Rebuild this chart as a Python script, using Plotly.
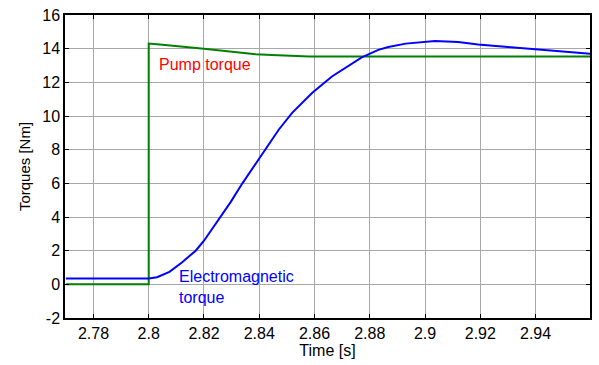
import plotly.graph_objects as go

# Pump torque (green)
pump_t = [2.77, 2.8, 2.8, 2.805, 2.82, 2.829, 2.8387, 2.8446, 2.858, 2.96]
pump_v = [0.0, 0.0, 14.3, 14.24, 14.0, 13.84, 13.67, 13.62, 13.53, 13.53]

# Electromagnetic torque (blue)
em_t = [2.77, 2.8, 2.803, 2.8075, 2.812, 2.817, 2.82, 2.8255, 2.8297, 2.8339, 2.84,
        2.8471, 2.8519, 2.8591, 2.8663, 2.8723, 2.8771, 2.8831, 2.8867, 2.893, 2.9036,
        2.912, 2.9192, 2.93, 2.9396, 2.9504, 2.96]
em_v = [0.35, 0.35, 0.42, 0.74, 1.3, 2.0, 2.59, 3.92, 4.9, 6.0, 7.5,
        9.2, 10.19, 11.37, 12.35, 13.0, 13.48, 13.93, 14.1, 14.3, 14.45,
        14.4, 14.25, 14.1, 13.96, 13.8, 13.7]

x_ticks = [2.78, 2.8, 2.82, 2.84, 2.86, 2.88, 2.9, 2.92, 2.94]
x_tick_labels = ["2.78", "2.8", "2.82", "2.84", "2.86", "2.88", "2.9", "2.92", "2.94"]
y_ticks = [-2, 0, 2, 4, 6, 8, 10, 12, 14, 16]
y_tick_labels = ["-2", "0", "2", "4", "6", "8", "10", "12", "14", "16"]

font = "Liberation Sans, Arial, sans-serif"

fig = go.Figure()
fig.add_trace(go.Scatter(x=pump_t, y=pump_v, mode="lines",
                         line=dict(color="#008000", width=2), showlegend=False))
fig.add_trace(go.Scatter(x=em_t, y=em_v, mode="lines",
                         line=dict(color="#0000ff", width=2), showlegend=False))

fig.add_annotation(x=2.8031, y=13.05, text="Pump torque", showarrow=False,
                   xanchor="left", yanchor="middle",
                   font=dict(family=font, size=16, color="#ff0000"))
fig.add_annotation(x=2.8103, y=-0.15, text="Electromagnetic<br>torque", showarrow=False,
                   xanchor="left", yanchor="middle", align="left",
                   font=dict(family=font, size=16, color="#0000ff"))

axis_common = dict(showline=True, linecolor="black", linewidth=1.5, mirror="ticks",
                   showgrid=True, gridcolor="#a8a8a8", gridwidth=1,
                   ticks="inside", ticklen=4, tickcolor="black", zeroline=False,
                   tickfont=dict(family=font, size=16, color="black"))

fig.update_xaxes(range=[2.7697, 2.9597], tickvals=x_ticks, ticktext=x_tick_labels,
                 title=dict(text="Time [s]", font=dict(family=font, size=16, color="black"),
                            standoff=2),
                 **axis_common)
fig.update_yaxes(range=[-2, 16], tickvals=y_ticks, ticktext=y_tick_labels,
                 title=dict(text="Torques [Nm]", font=dict(family=font, size=15, color="black"),
                            standoff=8),
                 **axis_common)

fig.update_layout(width=599, height=365, margin=dict(l=65, r=7, t=14, b=47),
                  plot_bgcolor="white", paper_bgcolor="white")

fig.write_html("out.html")
